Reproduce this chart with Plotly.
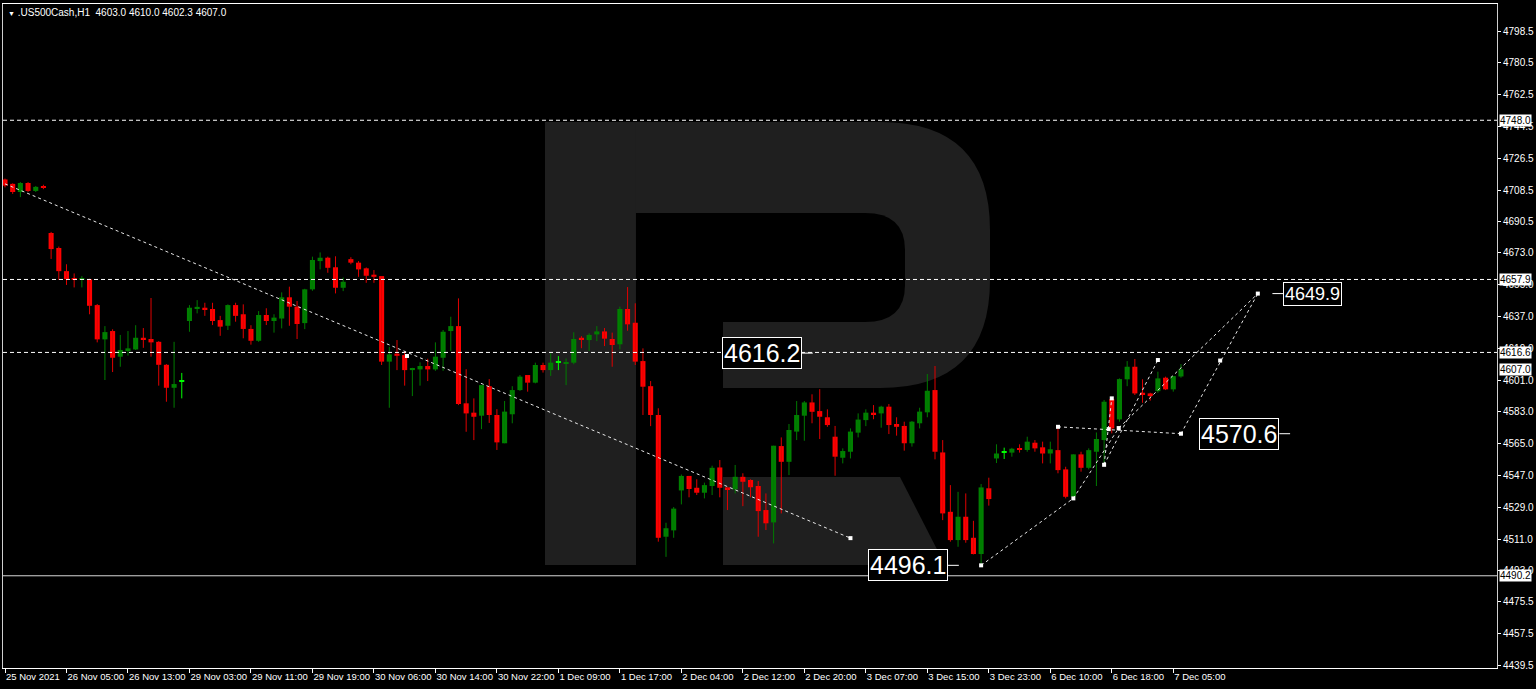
import plotly.graph_objects as go

# ---------------- data ----------------
opens = [4714.5, 4712.0, 4707.4, 4712.5, 4708.0, 4710.8, 4684.2, 4675.7, 4662.6, 4658.3,
         4657.6, 4658.0, 4643.4, 4624.0, 4628.7, 4614.2, 4617.4, 4618.3, 4624.9, 4624.2,
         4622.6, 4609.6, 4596.6, 4600.4, 4634.4, 4641.3, 4641.9, 4641.2, 4634.9, 4631.7,
         4643.4, 4638.2, 4629.9, 4623.2, 4637.8, 4634.4, 4635.8, 4647.8, 4642.5, 4633.2,
         4652.3, 4668.3, 4670.2, 4664.8, 4653.2, 4669.4, 4667.4, 4664.2, 4660.6, 4659.8,
         4611.4, 4615.9, 4615.1, 4606.6, 4607.0, 4608.9, 4607.0, 4613.6, 4628.7, 4631.5,
         4587.8, 4582.5, 4580.8, 4597.5, 4581.2, 4565.2, 4581.6, 4595.3, 4603.8, 4599.5,
         4609.5, 4606.6, 4611.1, 4610.3, 4610.8, 4624.9, 4623.6, 4626.8, 4628.5, 4624.2,
         4621.2, 4641.2, 4633.4, 4611.7, 4597.5, 4581.2, 4512.3, 4515.9, 4538.5, 4546.7,
         4540.0, 4537.2, 4541.0, 4551.5, 4540.2, 4539.1, 4546.2, 4544.4, 4541.0, 4527.4,
         4520.4, 4563.6, 4554.7, 4571.8, 4580.8, 4588.3, 4583.4, 4579.9, 4568.9, 4557.0,
         4560.4, 4571.2, 4578.3, 4582.5, 4582.1, 4585.9, 4576.1, 4575.0, 4565.2, 4576.5,
         4582.7, 4595.3, 4560.0, 4526.4, 4510.4, 4523.6, 4511.7, 4502.5, 4539.7, 4556.6,
         4560.2, 4559.9, 4562.1, 4561.4, 4565.5, 4562.9, 4559.4, 4561.3, 4550.4, 4534.9,
         4558.9, 4551.3, 4560.4, 4567.0, 4590.1, 4578.7, 4601.4, 4608.5, 4593.8, 4593.4,
         4594.7, 4602.3, 4595.7, 4603.0]
highs = [4715.0, 4712.3, 4713.0, 4713.0, 4710.8, 4711.5, 4684.8, 4676.5, 4666.5, 4661.3,
         4659.8, 4658.3, 4644.0, 4631.5, 4629.7, 4626.5, 4628.7, 4632.0, 4630.4, 4647.4,
         4623.0, 4610.0, 4622.6, 4605.0, 4643.4, 4646.2, 4644.7, 4644.7, 4637.3, 4643.8,
         4644.7, 4643.8, 4632.0, 4640.0, 4641.6, 4638.2, 4650.6, 4653.8, 4645.7, 4652.6,
         4670.8, 4673.2, 4670.8, 4671.0, 4659.0, 4670.5, 4668.3, 4664.7, 4663.2, 4659.8,
         4619.8, 4623.6, 4617.4, 4607.9, 4611.0, 4613.0, 4622.3, 4629.3, 4636.8, 4647.2,
         4607.1, 4590.6, 4598.1, 4601.5, 4584.5, 4589.1, 4597.5, 4603.8, 4603.8, 4610.8,
         4610.8, 4616.1, 4614.5, 4613.2, 4628.0, 4625.8, 4627.4, 4631.5, 4630.4, 4627.8,
         4642.5, 4653.6, 4644.4, 4618.9, 4600.4, 4585.0, 4520.2, 4529.1, 4547.5, 4546.7,
         4544.8, 4542.9, 4552.5, 4555.7, 4540.2, 4552.9, 4548.2, 4544.8, 4543.8, 4536.8,
         4563.8, 4568.5, 4576.1, 4589.1, 4589.1, 4592.9, 4595.8, 4584.4, 4575.0, 4562.3,
         4573.6, 4582.1, 4584.4, 4586.8, 4586.4, 4587.4, 4579.9, 4577.4, 4577.8, 4585.3,
         4604.4, 4608.9, 4567.0, 4541.5, 4537.7, 4536.8, 4521.3, 4542.1, 4545.7, 4564.6,
         4562.7, 4562.6, 4564.6, 4568.9, 4567.0, 4566.1, 4566.1, 4574.5, 4551.9, 4558.9,
         4560.4, 4562.3, 4571.3, 4589.7, 4591.0, 4601.9, 4611.7, 4612.9, 4601.4, 4593.8,
         4605.7, 4602.9, 4603.2, 4610.0]
lows = [4710.0, 4706.3, 4704.5, 4707.4, 4707.4, 4709.0, 4669.5, 4657.6, 4654.8, 4653.4,
        4653.4, 4638.2, 4622.3, 4601.0, 4605.5, 4608.5, 4614.8, 4618.0, 4619.2, 4614.2,
        4597.8, 4588.7, 4585.3, 4590.6, 4628.3, 4638.7, 4637.3, 4632.1, 4626.0, 4629.3,
        4634.0, 4624.6, 4621.0, 4622.6, 4632.1, 4627.8, 4630.2, 4631.7, 4624.2, 4629.8,
        4651.5, 4663.6, 4661.7, 4650.0, 4651.3, 4666.5, 4659.4, 4656.0, 4656.0, 4609.5,
        4585.3, 4606.6, 4597.8, 4591.9, 4597.8, 4600.4, 4606.2, 4606.2, 4617.4, 4586.8,
        4571.7, 4567.0, 4573.2, 4576.7, 4561.4, 4565.2, 4576.5, 4594.8, 4594.4, 4599.1,
        4605.2, 4603.3, 4606.6, 4598.1, 4609.9, 4619.0, 4617.4, 4623.0, 4620.2, 4608.5,
        4618.3, 4628.9, 4609.5, 4581.2, 4574.9, 4509.5, 4500.9, 4511.7, 4530.6, 4534.6,
        4535.9, 4534.0, 4535.9, 4534.6, 4527.4, 4536.8, 4529.6, 4534.6, 4512.3, 4516.1,
        4508.5, 4525.5, 4547.2, 4567.0, 4566.6, 4576.5, 4567.6, 4574.5, 4546.8, 4553.8,
        4556.6, 4568.5, 4574.9, 4578.8, 4574.0, 4570.4, 4569.5, 4561.0, 4563.3, 4573.6,
        4579.9, 4556.1, 4521.7, 4509.5, 4506.6, 4508.9, 4502.3, 4496.1, 4529.9, 4554.0,
        4556.3, 4557.6, 4559.9, 4560.4, 4560.4, 4553.8, 4553.8, 4548.2, 4534.0, 4533.4,
        4549.1, 4550.4, 4541.0, 4552.8, 4570.8, 4577.4, 4597.5, 4592.5, 4588.1, 4589.3,
        4593.8, 4595.3, 4594.4, 4602.3]
closes = [4711.0, 4707.4, 4712.5, 4708.0, 4710.3, 4710.0, 4675.1, 4662.6, 4658.0, 4657.6,
          4658.3, 4643.0, 4624.0, 4628.1, 4613.6, 4618.0, 4618.9, 4624.9, 4623.8, 4622.3,
          4609.6, 4596.6, 4598.7, 4600.4, 4641.9, 4642.4, 4641.0, 4634.4, 4631.2, 4643.4,
          4637.3, 4629.9, 4623.2, 4637.8, 4634.4, 4636.3, 4647.8, 4642.5, 4632.7, 4652.3,
          4668.9, 4670.2, 4664.5, 4653.2, 4656.6, 4667.4, 4663.6, 4660.0, 4659.4, 4611.4,
          4615.5, 4614.7, 4606.6, 4607.8, 4608.9, 4607.0, 4614.2, 4628.3, 4631.5, 4587.4,
          4582.1, 4580.2, 4598.1, 4581.2, 4565.7, 4583.1, 4595.3, 4602.9, 4599.5, 4609.5,
          4606.6, 4610.8, 4611.1, 4610.8, 4624.2, 4624.0, 4626.5, 4628.5, 4624.4, 4620.8,
          4641.2, 4632.5, 4611.4, 4597.2, 4581.2, 4511.7, 4517.1, 4528.2, 4546.7, 4539.3,
          4537.2, 4541.5, 4551.3, 4540.0, 4539.3, 4546.2, 4543.4, 4540.3, 4526.8, 4519.9,
          4563.8, 4554.7, 4572.7, 4581.2, 4588.3, 4583.0, 4580.2, 4575.5, 4557.6, 4560.8,
          4571.8, 4578.6, 4582.5, 4581.6, 4585.9, 4575.5, 4574.5, 4565.2, 4577.4, 4583.1,
          4594.9, 4560.4, 4525.5, 4510.4, 4523.6, 4510.4, 4502.5, 4540.2, 4533.6, 4559.4,
          4560.2, 4562.1, 4561.4, 4566.1, 4562.3, 4559.4, 4561.8, 4550.0, 4534.9, 4558.9,
          4551.3, 4561.3, 4567.6, 4588.7, 4573.6, 4601.5, 4608.5, 4593.4, 4593.0, 4591.9,
          4601.9, 4595.7, 4603.2, 4607.0]

time_labels = ["25 Nov 2021", "26 Nov 05:00", "26 Nov 13:00", "29 Nov 03:00", "29 Nov 11:00",
               "29 Nov 19:00", "30 Nov 06:00", "30 Nov 14:00", "30 Nov 22:00", "1 Dec 09:00",
               "1 Dec 17:00", "2 Dec 04:00", "2 Dec 12:00", "2 Dec 20:00", "3 Dec 07:00",
               "3 Dec 15:00", "3 Dec 23:00", "6 Dec 10:00", "6 Dec 18:00", "7 Dec 05:00"]
bars_per_label = 8

price_ticks = [4798.5, 4780.5, 4762.5, 4744.5, 4726.5, 4708.5, 4690.5, 4673.0, 4655.0, 4637.0,
               4619.0, 4601.0, 4583.0, 4565.0, 4547.0, 4529.0, 4511.0, 4493.0, 4475.5, 4457.5,
               4439.5]

dashed_levels = [4748.0, 4657.9, 4616.6]
solid_levels = [4490.2]
axis_box_levels = [4748.0, 4657.9, 4616.6, 4607.0, 4490.2]

# analyst forecast lines: (bar index, price)
forecast_paths = [
    ([0.0, 110.0], [4712.0, 4511.5]),
    ([127.0, 139.0], [4496.1, 4534.0]),
    ([137.0, 153.0], [4574.5, 4570.6]),
    ([153.0, 163.0], [4570.6, 4649.9]),
    ([139.0, 144.9, 163.0], [4534.0, 4573.8, 4649.9]),
    ([143.0, 144.0], [4553.0, 4590.6]),
    ([143.0, 150.0], [4553.0, 4612.3]),
]
forecast_marks_x = [110.0, 52.3, 127.0, 139.0, 137.0, 153.0, 163.0, 144.9, 143.6, 143.0, 144.0, 150.0, 158.1]
forecast_marks_y = [4511.5, 4614.6, 4496.1, 4534.0, 4574.5, 4570.6, 4649.9, 4573.8, 4573.2, 4553.0, 4590.6, 4612.3, 4612.0]

# big price labels: (text, anchor bar, anchor side, font size)
big_labels = [("4616.2", 103.7, "right", 25), ("4496.1", 122.7, "right", 25),
              ("4570.6", 165.8, "right", 25), ("4649.9", 166.3, "left", 18)]
big_label_prices = [4616.2, 4496.1, 4570.6, 4649.9]

header_text = ".US500Cash,H1\u00a0\u00a04603.0 4610.0 4602.3 4607.0"

# ---------------- geometry ----------------
W, H = 1536, 689
ML, MR, MT, MB = 3, 39, 4, 21
PW, PH = W - ML - MR, H - MT - MB
BAR_PX = 7.686
x0 = -2.0 / BAR_PX
x_range = [x0, x0 + PW / BAR_PX]
y_range = [4438.0, 4813.8]


def px_x(x):
    return (x - ML) / PW


def px_y(y):
    return (H - MB - y) / PH


fig = go.Figure()

# wicks
n = len(opens)
groups = {"bull": ([], [], "#007a00"), "bear": ([], [], "#e00000"), "doji": ([], [], "#00ff00")}
for i in range(n):
    if closes[i] > opens[i]:
        g = "bull"
    elif closes[i] < opens[i]:
        g = "bear"
    else:
        g = "doji"
    xs, ys, _ = groups[g]
    xs += [i, i, None]
    ys += [lows[i], highs[i], None]
for key, (xs, ys, col) in groups.items():
    fig.add_trace(go.Scatter(x=xs, y=ys, mode="lines", line=dict(color=col, width=1),
                             hoverinfo="skip", showlegend=False))

# bodies
for key, col in [("bull", "#008000"), ("bear", "#ff0000"), ("doji", "#00ff00")]:
    bx, bb, bh = [], [], []
    for i in range(n):
        o, c = opens[i], closes[i]
        k = "bull" if c > o else ("bear" if c < o else "doji")
        if k != key:
            continue
        bx.append(i)
        bb.append(min(o, c))
        bh.append(max(abs(c - o), 0.6))
    fig.add_trace(go.Bar(x=bx, y=bh, base=bb, width=0.66, marker=dict(color=col, line=dict(width=0)),
                         hoverinfo="skip", showlegend=False))

# forecast lines
for xs, ys in forecast_paths:
    fig.add_trace(go.Scatter(x=xs, y=ys, mode="lines",
                             line=dict(color="#e8e8e8", width=1, dash="3px,3px"),
                             hoverinfo="skip", showlegend=False))
fig.add_trace(go.Scatter(x=forecast_marks_x, y=forecast_marks_y, mode="markers",
                         marker=dict(color="white", size=4, symbol="square"),
                         hoverinfo="skip", showlegend=False))

shapes = []
# watermark "R"
gray = "#1f1f1f"
shapes.append(dict(type="rect", xref="paper", yref="paper", x0=px_x(545), x1=px_x(636),
                   y0=px_y(565), y1=px_y(122), fillcolor=gray, line=dict(width=0), layer="below"))


def pth(points):
    s = ""
    for cmd, pts in points:
        s += cmd + " " + " ".join(f"{px_x(a):.5f},{px_y(b):.5f}" for a, b in pts) + " "
    return s + "Z"


bowl = pth([("M", [(636, 122)]), ("L", [(880, 122)]), ("Q", [(990, 122), (990, 230)]),
            ("L", [(990, 280)]), ("Q", [(990, 388), (880, 388)]), ("L", [(723, 388)]),
            ("L", [(723, 322)]), ("L", [(636, 322)])])
shapes.append(dict(type="path", xref="paper", yref="paper", path=bowl, fillcolor=gray,
                   line=dict(width=0), layer="below"))
counter = pth([("M", [(636, 213)]), ("L", [(865, 213)]), ("Q", [(905, 213), (905, 250)]),
               ("L", [(905, 285)]), ("Q", [(905, 322), (865, 322)]), ("L", [(636, 322)])])
shapes.append(dict(type="path", xref="paper", yref="paper", path=counter, fillcolor="black",
                   line=dict(width=0), layer="below"))
leg = pth([("M", [(723, 477)]), ("L", [(900, 477)]), ("L", [(945, 565)]), ("L", [(723, 565)])])
shapes.append(dict(type="path", xref="paper", yref="paper", path=leg, fillcolor=gray,
                   line=dict(width=0), layer="below"))

# horizontal levels
for lv in dashed_levels:
    shapes.append(dict(type="line", xref="paper", yref="y", x0=0, x1=1, y0=lv, y1=lv,
                       line=dict(color="white", width=1, dash="4px,3px")))
for lv in solid_levels:
    shapes.append(dict(type="line", xref="paper", yref="y", x0=0, x1=1, y0=lv, y1=lv,
                       line=dict(color="#d8d8d8", width=1)))

annotations = []
# axis price boxes
for lv in axis_box_levels:
    annotations.append(dict(xref="paper", yref="y", x=1, y=lv, xanchor="left", yanchor="middle",
                            xshift=2, text=f"{lv:.1f}", showarrow=False, bgcolor="white",
                            font=dict(family="Liberation Sans", size=10, color="black"),
                            borderpad=0))

# big labels
for (txt, bx, side, fs), pr in zip(big_labels, big_label_prices):
    annotations.append(dict(xref="x", yref="y", x=bx, y=pr, xanchor=side, yanchor="middle",
                            text=txt, showarrow=False, bgcolor="black", bordercolor="white",
                            borderwidth=1, borderpad=1,
                            font=dict(family="Liberation Sans", size=fs, color="white")))
    if side == "right":
        shapes.append(dict(type="line", xref="x", yref="y", x0=bx, x1=bx + 1.4, y0=pr, y1=pr,
                           line=dict(color="white", width=1)))
    else:
        shapes.append(dict(type="line", xref="x", yref="y", x0=bx - 1.4, x1=bx, y0=pr, y1=pr,
                           line=dict(color="white", width=1)))

annotations.append(dict(xref="paper", yref="paper", x=0, y=1, xanchor="left", yanchor="top",
                        xshift=3, yshift=-1, showarrow=False,
                        text="<span style='font-size:7px'>\u25bc</span> " + header_text,
                        font=dict(family="Liberation Sans", size=10, color="white")))

fig.update_layout(
    width=W, height=H, margin=dict(l=ML, r=MR, t=MT, b=MB, autoexpand=False),
    paper_bgcolor="black", plot_bgcolor="black", barmode="overlay",
    shapes=shapes, annotations=annotations, showlegend=False,
    xaxis=dict(range=x_range, tickvals=[i * bars_per_label for i in range(len(time_labels))],
               ticktext=time_labels, ticks="outside", ticklen=4, tickcolor="white",
               tickangle=0, automargin=False,
               ticklabelposition="outside right", showgrid=False, zeroline=False,
               showline=True, linecolor="white", mirror=True,
               tickfont=dict(family="Liberation Sans", size=9.5, color="white")),
    yaxis=dict(range=y_range, side="right", tickvals=price_ticks, automargin=False,
               ticktext=[f"{t:.1f}" for t in price_ticks], ticks="outside", ticklen=3,
               tickcolor="white", showgrid=False, zeroline=False, showline=True,
               linecolor="#cfcfcf", mirror=True,
               tickfont=dict(family="Liberation Sans", size=10, color="white")),
)

fig.write_html("out.html", config={"displayModeBar": False},
               post_script="document.body.style.margin='0px';document.body.style.background='black';")
